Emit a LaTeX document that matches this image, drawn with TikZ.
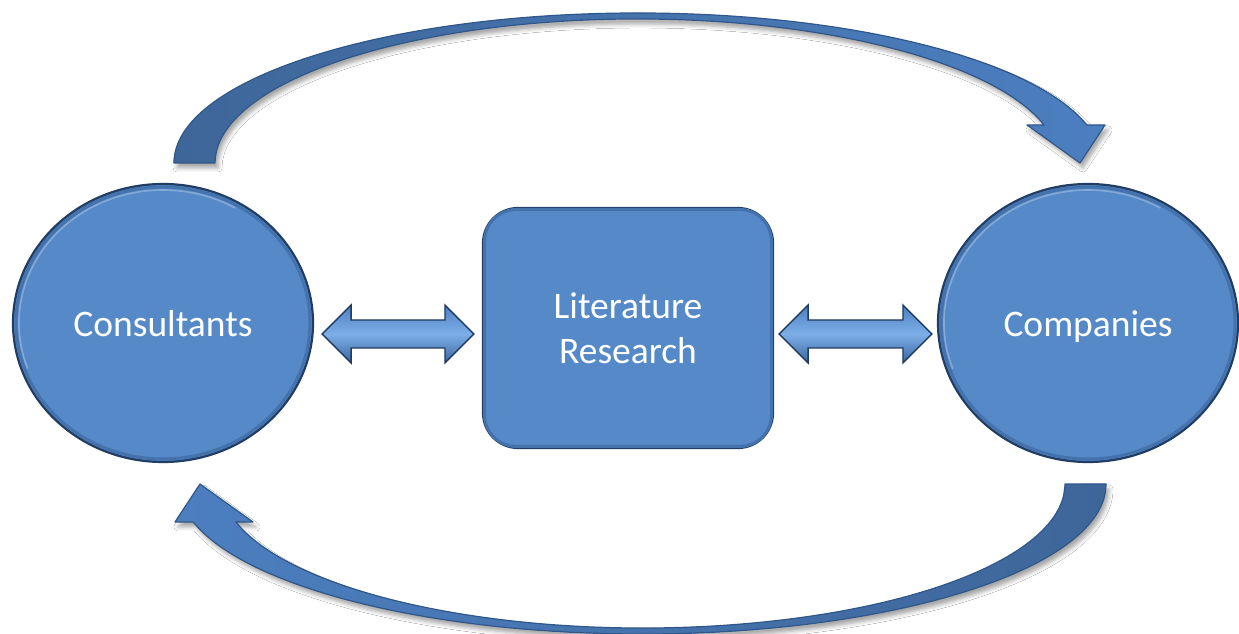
\documentclass[tikz,border=0pt]{standalone}
\usepackage{fontspec}
\setmainfont{Carlito}
\usetikzlibrary{shapes.geometric,calc,shadows.blur}

\definecolor{bodyblue}{HTML}{5589C8}
\definecolor{rimdark}{HTML}{213D63}
\definecolor{rimmid}{HTML}{4472AC}
\definecolor{arcdark}{HTML}{3E6699}
\definecolor{archead}{HTML}{4C7FC0}
\definecolor{arcedge}{HTML}{30578A}
\definecolor{dbltop}{HTML}{4E80C0}
\definecolor{dblmid}{HTML}{7DAEE8}
\definecolor{dblbot}{HTML}{3A679F}
\definecolor{dbledge}{HTML}{1F3B60}

\tikzset{
  blob/.style={fill=bodyblue, draw=rimdark, line width=2.2pt, inner sep=0pt,
    text=white, font=\fontsize{37.5}{45}\selectfont},
  disc/.style={blob, ellipse, minimum width=300pt, minimum height=278pt,
    text height=34pt, text depth=6pt},
  tile/.style={blob, rectangle, rounded corners=35pt, minimum width=290pt,
    minimum height=240pt, align=center},
  rim/.style={draw=rimmid, line width=3pt},
  gloss/.style={draw=white, opacity=0.28, line width=1.6pt, line cap=round},
  bandarrow/.style={draw=arcedge, line width=1.2pt, line join=round,
    blur shadow={shadow xshift=3pt, shadow yshift=-5pt,
      shadow blur radius=4pt, shadow opacity=35}},
  dblarrow/.style={draw=dbledge, line width=1.3pt, line join=miter,
    top color=dbltop, bottom color=dblbot, middle color=dblmid},
}

% horizontal block arrow with a head at both ends, between two coordinates
\newcommand\twoheaded[2]{%
  \path[dblarrow] let \p1=(#1), \p2=(#2) in
    (\x1,\y1) -- (\x1+29pt,\y1+29pt) -- (\x1+29pt,\y1+14pt)
    -- (\x2-29pt,\y1+14pt) -- (\x2-29pt,\y1+29pt) -- (\x2,\y1)
    -- (\x2-29pt,\y1-29pt) -- (\x2-29pt,\y1-14pt)
    -- (\x1+29pt,\y1-14pt) -- (\x1+29pt,\y1-29pt) -- cycle;}

\begin{document}
\begin{tikzpicture}[x=1pt, y=1pt]
  \useasboundingbox (0,0) rectangle (1239,634);
  \fill[white] (0,0) rectangle (1239,634);

  % upper curved arrow, left to right
  \path[bandarrow, left color=arcdark, right color=archead]
    (174,471) arc[start angle=180, end angle=14.67, x radius=464pt, y radius=150pt]
    -- (1105,509) -- (1080,471) -- (1027,509) -- (1044.1,509)
    arc[start angle=15.30, end angle=180, x radius=422pt, y radius=144pt]
    -- cycle;

  % lower curved arrow, right to left
  \path[bandarrow, left color=archead, right color=arcdark]
    (1106,150) arc[start angle=0, end angle=-165.33, x radius=464pt, y radius=150pt]
    -- (175,112) -- (200,150) -- (253,112) -- (235.9,112)
    arc[start angle=-164.70, end angle=0, x radius=422pt, y radius=144pt]
    -- cycle;

  % the three blocks
  \node[disc] (cons) at (163,311) {Consultants};
  \node[disc] (comp) at (1088,311) {Companies};
  \node[tile] (lit) at (628,306) {Literature\\Research};

  % inner bevel rims and a faint highlight along the upper edge
  \draw[rim] (cons.center) ellipse [x radius=147pt, y radius=136pt];
  \draw[rim] (comp.center) ellipse [x radius=147pt, y radius=136pt];
  \draw[rim, rounded corners=32pt]
    ($(lit.south west)+(2.6,2.6)$) rectangle ($(lit.north east)-(2.6,2.6)$);
  \draw[gloss] ($(cons.center)+(200:144 and 133)$)
    arc[start angle=200, end angle=60, x radius=144pt, y radius=133pt];
  \draw[gloss] ($(comp.center)+(200:144 and 133)$)
    arc[start angle=200, end angle=60, x radius=144pt, y radius=133pt];

  % two-headed arrows between the blocks
  \coordinate (la) at ($(cons.east)+(8,-11)$);
  \coordinate (lb) at ($(lit.west)+(-8,-6)$);
  \coordinate (ra) at ($(lit.east)+(5,-6)$);
  \coordinate (rb) at ($(comp.west)+(-5,-11)$);
  \twoheaded{la}{lb}
  \twoheaded{ra}{rb}
\end{tikzpicture}
\end{document}
